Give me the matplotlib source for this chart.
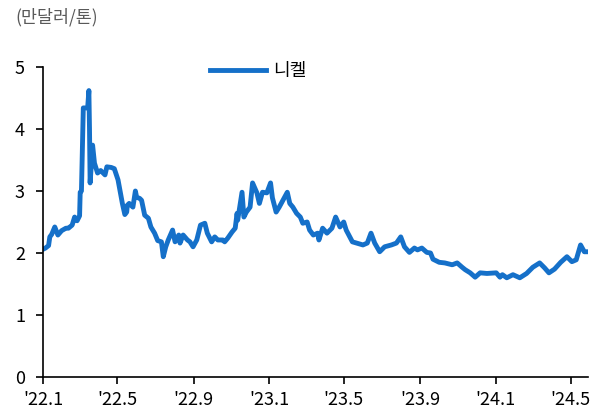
import matplotlib
matplotlib.use("Agg")
import matplotlib.pyplot as plt
import matplotlib.dates as mdates
import pandas as pd

plt.rcParams["font.family"] = ["Noto Sans CJK KR", "DejaVu Sans"]

# nickel price, 10k USD per ton
dates = [
    "2022-01-03", "2022-01-05", "2022-01-10", "2022-01-12", "2022-01-15", "2022-01-20",
    "2022-01-25", "2022-01-31", "2022-02-07", "2022-02-11", "2022-02-17", "2022-02-21",
    "2022-02-25", "2022-03-01", "2022-03-02", "2022-03-04", "2022-03-07", "2022-03-11",
    "2022-03-14", "2022-03-16", "2022-03-17", "2022-03-18", "2022-03-22", "2022-03-25",
    "2022-03-30", "2022-04-04", "2022-04-11", "2022-04-14", "2022-04-21", "2022-04-26",
    "2022-05-02", "2022-05-09", "2022-05-13", "2022-05-16", "2022-05-17", "2022-05-20",
    "2022-05-26", "2022-05-30", "2022-06-01", "2022-06-06", "2022-06-09", "2022-06-14",
    "2022-06-20", "2022-06-24", "2022-06-30", "2022-07-05", "2022-07-11", "2022-07-14",
    "2022-07-18", "2022-07-22", "2022-07-29", "2022-08-02", "2022-08-08", "2022-08-10",
    "2022-08-15", "2022-08-22", "2022-08-26", "2022-08-31", "2022-09-06", "2022-09-12",
    "2022-09-19", "2022-09-23", "2022-09-30", "2022-10-05", "2022-10-10", "2022-10-18",
    "2022-10-21", "2022-10-26", "2022-11-02", "2022-11-07", "2022-11-10", "2022-11-11",
    "2022-11-18", "2022-11-21", "2022-11-25", "2022-12-01", "2022-12-05", "2022-12-12",
    "2022-12-16", "2022-12-21", "2022-12-28", "2023-01-03", "2023-01-06", "2023-01-12",
    "2023-01-17", "2023-01-23", "2023-01-30", "2023-02-03", "2023-02-08", "2023-02-14",
    "2023-02-20", "2023-02-24", "2023-03-03", "2023-03-07", "2023-03-13", "2023-03-20",
    "2023-03-22", "2023-03-28", "2023-04-04", "2023-04-12", "2023-04-18", "2023-04-25",
    "2023-05-01", "2023-05-05", "2023-05-15", "2023-05-22", "2023-06-01", "2023-06-08",
    "2023-06-14", "2023-06-20", "2023-06-28", "2023-07-06", "2023-07-17", "2023-07-25",
    "2023-08-01", "2023-08-07", "2023-08-15", "2023-08-23", "2023-08-28", "2023-09-04",
    "2023-09-12", "2023-09-18", "2023-09-22", "2023-10-02", "2023-10-11", "2023-10-23",
    "2023-10-31", "2023-11-08", "2023-11-13", "2023-11-21", "2023-11-29", "2023-12-07",
    "2023-12-18", "2024-01-02", "2024-01-08", "2024-01-12", "2024-01-19", "2024-01-29",
    "2024-02-09", "2024-02-20", "2024-03-01", "2024-03-12", "2024-03-20", "2024-03-27",
    "2024-04-05", "2024-04-15", "2024-04-25", "2024-05-03", "2024-05-10", "2024-05-17",
    "2024-05-23", "2024-05-28",
]
nickel = [
    2.07, 2.08, 2.12, 2.26, 2.30, 2.42,
    2.29, 2.36, 2.40, 2.40, 2.45, 2.58,
    2.52, 2.60, 2.98, 3.00, 4.34, 4.34,
    4.34, 4.62, 4.00, 3.13, 3.74, 3.45,
    3.29, 3.33, 3.26, 3.39, 3.38, 3.36,
    3.18, 2.80, 2.62, 2.66, 2.77, 2.80,
    2.74, 3.00, 2.90, 2.88, 2.85, 2.61,
    2.56, 2.42, 2.32, 2.20, 2.18, 1.94,
    2.10, 2.21, 2.37, 2.18, 2.29, 2.16,
    2.29, 2.21, 2.18, 2.10, 2.21, 2.45,
    2.48, 2.32, 2.18, 2.26, 2.21, 2.21,
    2.18, 2.24, 2.34, 2.40, 2.64, 2.53,
    2.98, 2.58, 2.66, 2.74, 3.13, 2.97,
    2.80, 2.98, 2.97, 3.13, 2.89, 2.66,
    2.74, 2.85, 2.98, 2.80, 2.74, 2.64,
    2.58, 2.48, 2.50, 2.37, 2.29, 2.32,
    2.21, 2.40, 2.32, 2.40, 2.58, 2.42,
    2.50, 2.37, 2.18, 2.16, 2.13, 2.16,
    2.32, 2.16, 2.02, 2.10, 2.13, 2.16,
    2.26, 2.10, 2.01, 2.08, 2.05, 2.08,
    2.01, 2.00, 1.90, 1.85, 1.84, 1.81,
    1.84, 1.77, 1.73, 1.68, 1.61, 1.68,
    1.67, 1.68, 1.61, 1.65, 1.60, 1.65,
    1.60, 1.67, 1.77, 1.84, 1.76, 1.68,
    1.74, 1.85, 1.94, 1.86, 1.89, 2.13,
    2.02, 2.02,
]

tick_dates = ["2022-01-01", "2022-05-01", "2022-09-01", "2023-01-01",
              "2023-05-01", "2023-09-01", "2024-01-01", "2024-05-01"]
tick_labels = ["'22.1", "'22.5", "'22.9", "'23.1", "'23.5", "'23.9", "'24.1", "'24.5"]

fig = plt.figure(figsize=(6.05, 4.08), dpi=100)
ax = fig.add_axes([43 / 605, 31 / 408, 545 / 605, 310 / 408])

ax.plot(pd.to_datetime(dates), nickel, color="#1570c9", lw=3.5,
        solid_joinstyle="round", label="니켈")

ax.set_xlim(pd.Timestamp("2022-01-01"), pd.Timestamp("2024-05-29"))
ax.set_ylim(0, 5)
ax.set_yticks(range(6))
ax.set_xticks(mdates.date2num(pd.to_datetime(tick_dates)))
ax.set_xticklabels(tick_labels)

for side in ("top", "right"):
    ax.spines[side].set_visible(False)
for side in ("left", "bottom"):
    ax.spines[side].set_linewidth(1.2)
ax.tick_params(axis="both", direction="out", length=5, width=1.2,
               labelsize=13, colors="black")
ax.tick_params(axis="x", pad=5)
ax.tick_params(axis="y", pad=8)

fig.text(15 / 605, 1 - 17 / 408, "(만달러/톤)", fontsize=12.5, color="#595959",
         va="center", ha="left")

ax.legend(loc="center left", bbox_to_anchor=(203 / 605, 1 - 71 / 408),
          bbox_transform=fig.transFigure, frameon=False, fontsize=13,
          handlelength=3.1, handletextpad=0.4, borderaxespad=0)

fig.savefig("out.png", dpi=100)
